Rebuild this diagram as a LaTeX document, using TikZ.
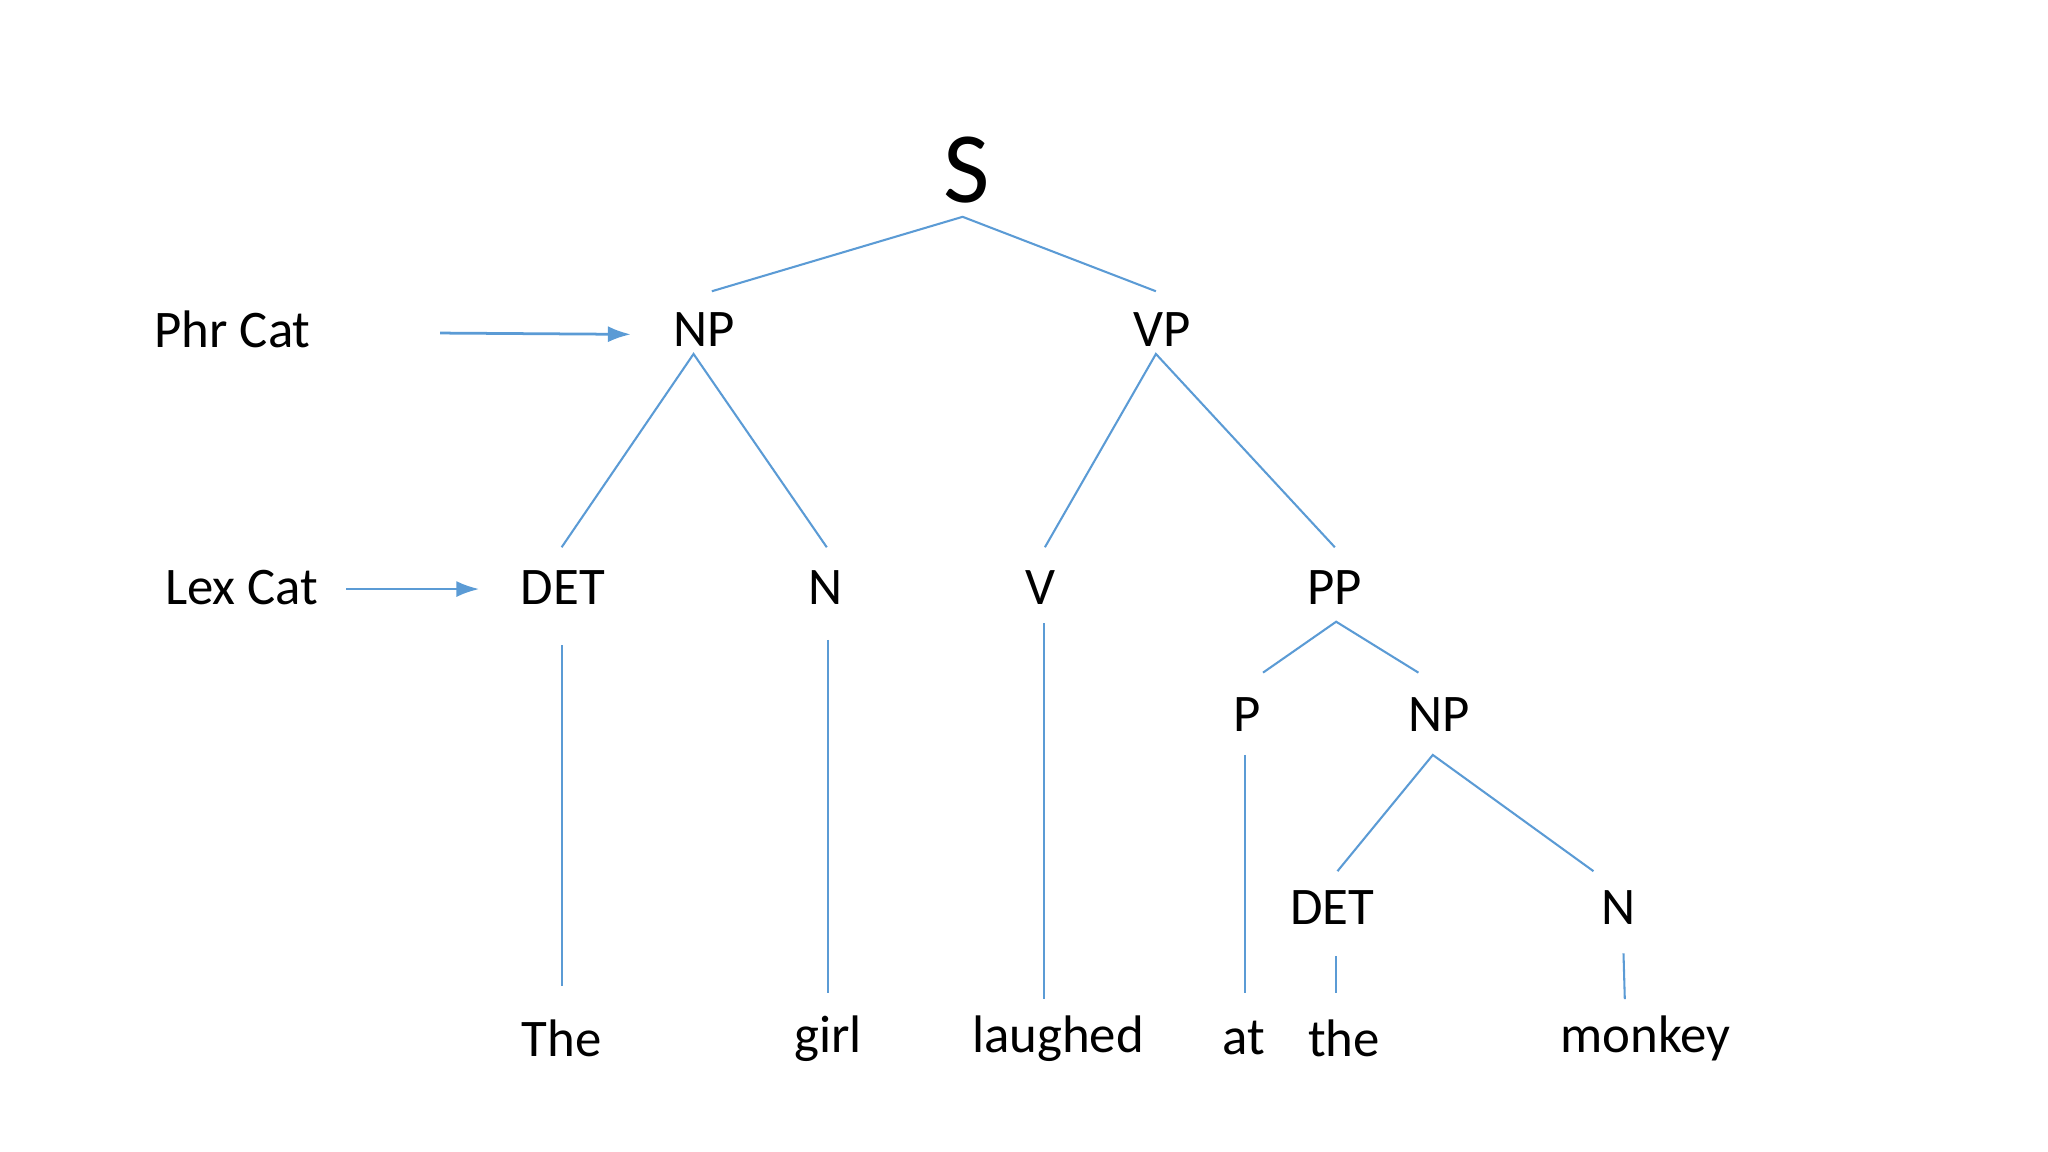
\documentclass[tikz,border=0pt]{standalone}
\usepackage{fontspec}
\setmainfont{Carlito}
\usetikzlibrary{arrows.meta}
\definecolor{lb}{RGB}{91,155,213}
\begin{document}
\begin{tikzpicture}[x=0.01cm,y=-0.01cm,
  lbl/.style={font=\fontsize{11.5}{13}\selectfont,inner sep=0pt},
  br/.style={draw=lb,line width=0.45pt},
  arr/.style={draw=lb,line width=0.6pt,-{Latex[length=5pt,width=3.5pt]}}]
\useasboundingbox (0,0) rectangle (1568,882);
\node[lbl,font=\fontsize{22}{26}\selectfont] (S) at (740,130) {S};
\node[lbl] (phr) at (178,252) {Phr Cat};
\node[lbl] (np1) at (539,252) {NP};
\node[lbl] (vp) at (890,252) {VP};
\node[lbl] (lex) at (185,450) {Lex Cat};
\node[lbl] (det1) at (431,450) {DET};
\node[lbl] (n1) at (632,450) {N};
\node[lbl] (v) at (797,450) {V};
\node[lbl] (pp) at (1022,450) {PP};
\node[lbl] (p) at (955,547) {P};
\node[lbl] (np2) at (1102,547) {NP};
\node[lbl] (det2) at (1020,695) {DET};
\node[lbl] (n2) at (1239,695) {N};
\node[lbl] (w1) at (430,795) {The};
\node[lbl] (w2) at (634,795) {girl};
\node[lbl] (w3) at (810,795) {laughed};
\node[lbl] (w4) at (952,795) {at};
\node[lbl] (w5) at (1029,795) {the};
\node[lbl] (w6) at (1260,795) {monkey};
% coordinates
\coordinate (sB) at (737,166); \coordinate (np1T) at (545,223); \coordinate (vpT) at (885,223);
\coordinate (np1B) at (531,271); \coordinate (det1T) at (430,419); \coordinate (n1T) at (633,419);
\coordinate (vpB) at (885,271); \coordinate (vT) at (800,419); \coordinate (ppT) at (1022,419);
\coordinate (ppB) at (1023,476); \coordinate (pT) at (967,515); \coordinate (np2T) at (1086,515);
\coordinate (np2B) at (1097,578); \coordinate (det2T) at (1024,667); \coordinate (n2T) at (1220,667);
\coordinate (det1B) at (430,494); \coordinate (w1T) at (430,755);
\coordinate (n1B) at (634,490); \coordinate (w2T) at (634,760);
\coordinate (vB) at (799,477); \coordinate (w3T) at (799,765);
\coordinate (pB) at (953,578); \coordinate (w4T) at (953,760);
\coordinate (det2B) at (1023,732); \coordinate (w5T) at (1023,760);
\coordinate (n2B) at (1243,730); \coordinate (w6T) at (1244,765);
\coordinate (a1s) at (337,255); \coordinate (a1e) at (483,256);
\coordinate (a2s) at (265,451); \coordinate (a2e) at (367,451);
\draw[br] (np1T)--(sB)--(vpT);
\draw[br] (det1T)--(np1B)--(n1T);
\draw[br] (vT)--(vpB)--(ppT);
\draw[br] (pT)--(ppB)--(np2T);
\draw[br] (det2T)--(np2B)--(n2T);
\draw[br] (det1B)--(w1T);
\draw[br] (n1B)--(w2T);
\draw[br] (vB)--(w3T);
\draw[br] (pB)--(w4T);
\draw[br] (det2B)--(w5T);
\draw[br] (n2B)--(w6T);
\draw[arr] (a1s)--(a1e);
\draw[arr] (a2s)--(a2e);
\end{tikzpicture}
\end{document}
